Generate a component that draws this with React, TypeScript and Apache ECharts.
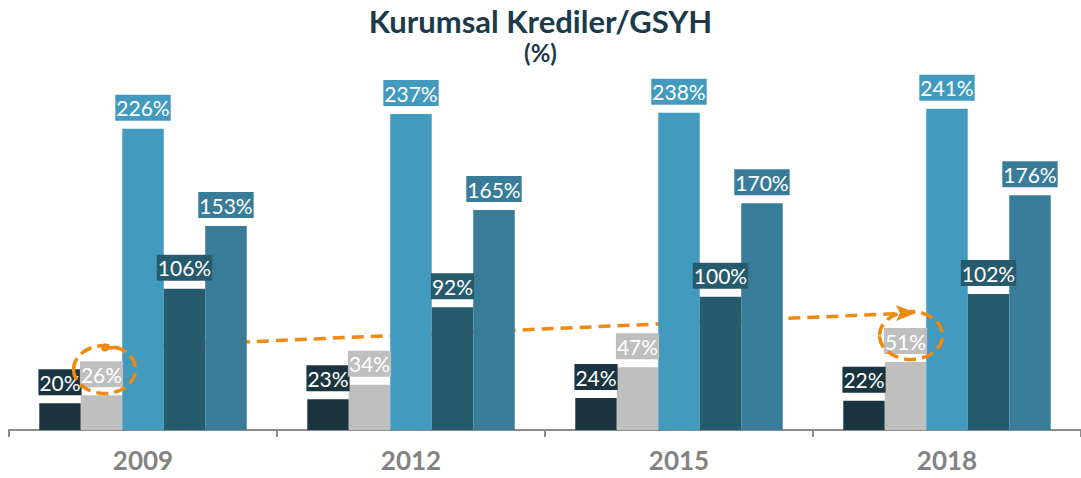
import React, { useEffect, useRef } from "react";
import * as echarts from "echarts";

const categories = ["2009", "2012", "2015", "2018"];
const seriesNames = ["S1", "S2", "S3", "S4", "S5"];
const s1 = [20, 23, 24, 22];
const s2 = [26, 34, 47, 51];
const s3 = [226, 237, 238, 241];
const s4 = [106, 92, 100, 102];
const s5 = [153, 165, 170, 176];
const seriesData = [s1, s2, s3, s4, s5];
const colors = ["#1b3540", "#bfbfbf", "#439abf", "#265a6d", "#397c99"];

const ORANGE = "#ee8a12";

export default function App() {
  const ref = useRef<HTMLDivElement>(null);
  useEffect(() => {
    if (!ref.current) return;
    const chart = echarts.init(ref.current, null, { renderer: "svg" });
    const font = "Lato, 'Open Sans', sans-serif";
    chart.setOption({
      animation: false,
      title: {
        text: "Kurumsal Krediler/GSYH",
        subtext: "(%)",
        left: "center",
        top: 0,
        itemGap: 4,
        textStyle: { fontFamily: font, fontSize: 31, fontWeight: "bold", color: "#1d3a48" },
        subtextStyle: { fontFamily: font, fontSize: 24, fontWeight: "bold", color: "#1d3a48" },
      },
      grid: { left: 9, right: -6, top: 30, bottom: 48, containLabel: false },
      xAxis: {
        type: "category",
        data: categories,
        axisLine: { lineStyle: { color: "#8c8c8c", width: 2 } },
        axisTick: { show: true, length: 7, lineStyle: { color: "#8c8c8c", width: 2 } },
        axisLabel: { fontFamily: font, fontSize: 26, fontWeight: "bold", color: "#838383", margin: 17 },
      },
      yAxis: { type: "value", min: 0, max: 300, show: false, splitLine: { show: false } },
      series: seriesData.map((d, i) => ({
        type: "bar",
        name: seriesNames[i],
        data: d,
        barGap: "0%",
        barCategoryGap: "22.6%",
        itemStyle: { color: colors[i] },
        label: {
          show: true,
          position: "top",
          distance: 8,
          formatter: "{c}%",
          fontFamily: font,
          fontSize: 21,
          lineHeight: 24,
          color: "#ffffff",
          backgroundColor: colors[i],
          padding: [1, 1, 1, 1],
        },
      })),
      graphic: [
        {
          type: "line",
          z: 1,
          shape: { x1: 105, y1: 348, x2: 900, y2: 313.5 },
          style: { stroke: ORANGE, lineWidth: 3.5, lineDash: [12, 7] },
        },
        {
          type: "polygon",
          z: 1,
          shape: { points: [[916, 313], [896, 305], [900, 313.2], [896, 321]] },
          style: { fill: ORANGE },
        },
        {
          type: "ellipse",
          z: 50,
          shape: { cx: 104.5, cy: 369.5, rx: 31, ry: 24 },
          style: { fill: "none", stroke: ORANGE, lineWidth: 3.5, lineDash: [12, 6] },
        },
        {
          type: "circle",
          z: 50,
          shape: { cx: 105, cy: 347.5, r: 4 },
          style: { fill: ORANGE },
        },
        {
          type: "ellipse",
          z: 50,
          shape: { cx: 911, cy: 335.5, rx: 31.5, ry: 24 },
          style: { fill: "none", stroke: ORANGE, lineWidth: 3.5, lineDash: [12, 6] },
        },
      ],
    });
    return () => chart.dispose();
  }, []);
  return (
    <div
      ref={ref}
      style={{ position: "fixed", left: 0, top: 0, width: 1081, height: 478, background: "#fff" }}
    />
  );
}
